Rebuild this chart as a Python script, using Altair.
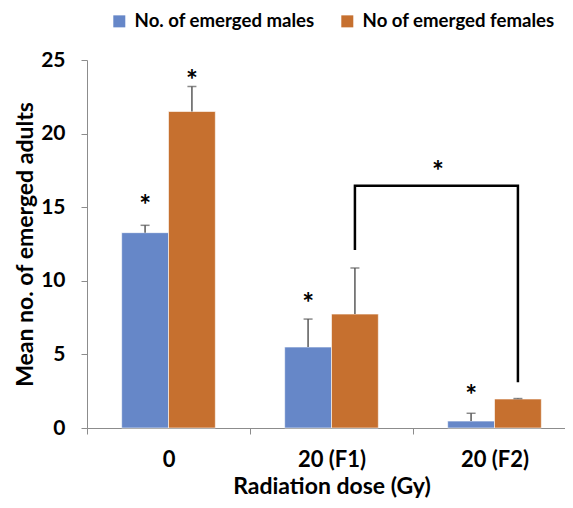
import altair as alt
import pandas as pd

doses = ["0", "20 (F1)", "20 (F2)"]
series = ["No. of emerged males", "No of emerged females"]
males = [13.27, 5.5, 0.47]
females = [21.5, 7.74, 1.97]
male_err = [0.5, 1.9, 0.53]
female_err = [1.7, 3.13, 0.03]
male_star = [15.56, 8.9, 2.65]
female_star = [24.05, None, None]
colors = ["#6687C8", "#C6702F"]

# bracket (female 20 (F1) -> female 20 (F2)), values in y units
bracket_dose = ["20 (F1)", "20 (F1)", "20 (F2)", "20 (F2)"]
bracket_y = [12.1, 16.45, 16.45, 3.1]
bracket_star_y = 17.87

rows = []
for i, d in enumerate(doses):
    rows.append(dict(dose=d, series=series[0], value=males[i], upper=males[i] + male_err[i], star=male_star[i]))
    rows.append(dict(dose=d, series=series[1], value=females[i], upper=females[i] + female_err[i], star=female_star[i]))
df = pd.DataFrame(rows)
stars = df.dropna(subset=["star"])

br = pd.DataFrame(dict(dose=bracket_dose, series=[series[1]] * 4, y=bracket_y, order=list(range(4))))
brs = pd.DataFrame(dict(dose=["20 (F2)"], y=[bracket_star_y]))

FONT = "Lato"
xscale = alt.Scale(domain=doses, paddingInner=0, paddingOuter=0, range=[0, 489])
xoff = alt.XOffset("series:N", scale=alt.Scale(domain=series, paddingInner=0, paddingOuter=0.74))
yscale = alt.Scale(domain=[0, 25])

x_enc = alt.X("dose:N", scale=xscale, sort=doses,
              axis=alt.Axis(title="Radiation dose (Gy)", labelAngle=0, tickBand="extent",
                            labelFont=FONT, labelFontSize=22, labelFontWeight="bold", labelColor="#000",
                            titleFont=FONT, titleFontSize=23, titleFontWeight="bold", titleColor="#000",
                            domainColor="#8c8c8c", tickColor="#8c8c8c", tickSize=6,
                            labelPadding=15, titlePadding=5))
y_enc = alt.Y("value:Q", scale=yscale,
              axis=alt.Axis(title="Mean no. of emerged adults", values=[0, 5, 10, 15, 20, 25], grid=False,
                            labelFont=FONT, labelFontSize=21, labelFontWeight="bold", labelColor="#000",
                            titleFont=FONT, titleFontSize=23, titleFontWeight="bold", titleColor="#000",
                            domainColor="#8c8c8c", tickColor="#8c8c8c", tickSize=6,
                            labelPadding=16, titlePadding=3))

bars = alt.Chart(df).mark_bar(stroke="white", strokeWidth=0.6).encode(
    x=x_enc, xOffset=xoff, y=y_enc,
    color=alt.Color("series:N", scale=alt.Scale(domain=series, range=colors), title=None,
                    legend=alt.Legend(orient="none", legendX=23, legendY=-48, direction="horizontal",
                                      symbolType="square", symbolSize=144, symbolStrokeWidth=0,
                                      labelFont=FONT, labelFontSize=18.6, labelFontWeight="bold",
                                      labelColor="#000", columnPadding=23, labelOffset=6, labelLimit=0)),
)

err = alt.Chart(df).mark_rule(color="#595959", strokeWidth=1.5).encode(
    x=alt.X("dose:N", scale=xscale, sort=doses), xOffset=xoff,
    y=alt.Y("value:Q", scale=yscale), y2="upper:Q")
caps = alt.Chart(df).mark_tick(color="#595959", size=9, thickness=1.5).encode(
    x=alt.X("dose:N", scale=xscale, sort=doses), xOffset=xoff,
    y=alt.Y("upper:Q", scale=yscale))

star_txt = alt.Chart(stars).mark_text(text="*", font=FONT, fontSize=28, fontWeight="bold",
                                      color="#000", baseline="middle", dy=8).encode(
    x=alt.X("dose:N", scale=xscale, sort=doses), xOffset=xoff,
    y=alt.Y("star:Q", scale=yscale))

bracket = alt.Chart(br).mark_line(color="#000", strokeWidth=2.5, strokeJoin="miter").encode(
    x=alt.X("dose:N", scale=xscale, sort=doses), xOffset=xoff,
    y=alt.Y("y:Q", scale=yscale), order="order:Q")

bstar = alt.Chart(brs).mark_text(text="*", font=FONT, fontSize=28, fontWeight="bold",
                                 color="#000", baseline="middle", dy=8, dx=25).encode(
    x=alt.X("dose:N", scale=xscale, sort=doses, bandPosition=0),
    y=alt.Y("y:Q", scale=yscale))

chart = alt.layer(bars, err, caps, star_txt, bracket, bstar).properties(
    width=478, height=368,
    autosize=alt.AutoSizeParams(type="none"),
    padding={"left": 79, "top": 52, "right": 0, "bottom": 72},
).configure_view(stroke=None)

chart.save("out.html", embed_options={"renderer": "svg", "actions": False})
